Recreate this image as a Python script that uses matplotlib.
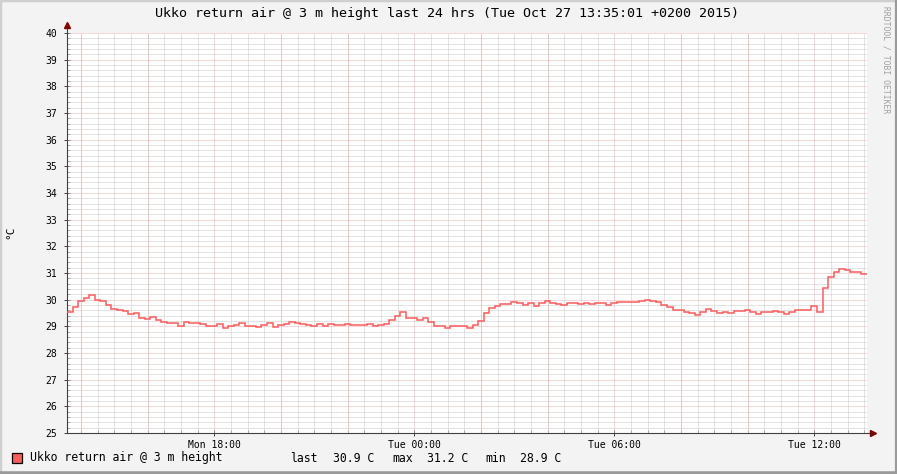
"""
RRDtool-style temperature graph: Ukko return air, last 24 h.
"""
import matplotlib
matplotlib.use("Agg")
import matplotlib.pyplot as plt
from matplotlib.lines import Line2D
from matplotlib.patches import Rectangle
from matplotlib.ticker import MultipleLocator, FixedLocator, FixedFormatter
import numpy as np

# --- data -----------------------------------------------------------------
start_hour = 13 + 35 / 60          # Mon 13:35, hours since Mon 00:00
step_hours = 10 / 60               # one sample every 10 min

temps = [
    29.55, 29.74, 29.95, 30.07, 30.16, 30.00, 29.95, 29.79, 29.66, 29.60,
    29.57, 29.45, 29.50, 29.32, 29.26, 29.36, 29.25, 29.16, 29.13, 29.13,
    29.00, 29.17, 29.12, 29.12, 29.10, 29.03, 29.03, 29.10, 28.95, 29.03,
    29.05, 29.12, 29.03, 29.03, 28.97, 29.05, 29.12, 28.98, 29.05, 29.10,
    29.15, 29.13, 29.09, 29.05, 29.02, 29.08, 29.00, 29.10, 29.05, 29.05,
    29.10, 29.05, 29.05, 29.05, 29.07, 29.03, 29.05, 29.08, 29.25, 29.40,
    29.55, 29.33, 29.30, 29.25, 29.30, 29.16, 29.00, 29.00, 28.95, 29.00,
    29.00, 29.00, 28.95, 29.05, 29.20, 29.50, 29.70, 29.78, 29.84, 29.82,
    29.92, 29.86, 29.80, 29.86, 29.78, 29.86, 29.94, 29.86, 29.84, 29.80,
    29.86, 29.86, 29.84, 29.86, 29.84, 29.86, 29.86, 29.80, 29.88, 29.93,
    29.93, 29.92, 29.90, 29.95, 30.00, 29.96, 29.90, 29.81, 29.72, 29.63,
    29.60, 29.55, 29.51, 29.43, 29.52, 29.65, 29.58, 29.50, 29.53, 29.50,
    29.59, 29.59, 29.60, 29.55, 29.45, 29.55, 29.53, 29.58, 29.52, 29.45,
    29.52, 29.60, 29.60, 29.62, 29.75, 29.55, 30.45, 30.85, 31.03, 31.15,
    31.12, 31.02, 31.03, 30.96,
]

title = "Ukko return air @ 3 m height last 24 hrs (Tue Oct 27 13:35:01 +0200 2015)"
series_name = "Ukko return air @ 3 m height"
unit_label = "°C"
stat_names = ["last", "max", "min"]
stat_values = [30.9, 31.2, 28.9]
x_tick_hours = [18, 24, 30, 36]
x_tick_labels = ["Mon 18:00", "Tue 00:00", "Tue 06:00", "Tue 12:00"]
watermark = "RRDTOOL / TOBI OETIKER"

# --- styling --------------------------------------------------------------
W, H = 897, 474
BG = "#f3f3f3"
LINE = "#ff5c5c"
MINOR_GRID = "#c8c8c8"
MAJOR_GRID = "#f0b0b0"
AXIS = "#404040"
ARROW = "#800000"
MONO = "DejaVu Sans Mono"

fig = plt.figure(figsize=(W / 100, H / 100), dpi=100)
fig.patch.set_facecolor(BG)

# plot area: x 67..867, y 33..433 px
ax = fig.add_axes([67 / W, (H - 433) / H, 800 / W, 400 / H])
ax.set_facecolor("white")

edges = start_hour + np.arange(len(temps) + 1) * step_hours
ax.stairs(temps, edges, baseline=None, color=LINE, linewidth=1.1, zorder=3)

ax.set_xlim(start_hour, start_hour + 24)
ax.set_ylim(25, 40)

# grids (1px dotted)
dot = (0, (1, 1))
grid_kw = dict(linestyle=dot, linewidth=0.72)
ax.xaxis.set_minor_locator(MultipleLocator(0.5))
ax.yaxis.set_minor_locator(MultipleLocator(0.2))
ax.grid(which="minor", color=MINOR_GRID, zorder=1, **grid_kw)
for h in np.arange(14, start_hour + 24, 2):
    ax.axvline(h, color=MAJOR_GRID, zorder=2, **grid_kw)
for v in range(26, 41):
    ax.axhline(v, color=MAJOR_GRID, zorder=2, **grid_kw)

ax.xaxis.set_major_locator(FixedLocator(x_tick_hours))
ax.xaxis.set_major_formatter(FixedFormatter(x_tick_labels))
ax.yaxis.set_major_locator(MultipleLocator(1))
ax.yaxis.set_major_formatter(lambda v, p: f"{v:.0f}")

ax.tick_params(axis="both", which="major", labelsize=7, colors=AXIS,
               direction="inout", length=4, width=0.7)
ax.tick_params(axis="both", which="minor", colors="#909090",
               direction="in", length=2, width=0.5)
ax.tick_params(axis="y", which="major", pad=5)
ax.tick_params(axis="x", which="major", pad=3)
for lbl in ax.get_xticklabels() + ax.get_yticklabels():
    lbl.set_fontfamily(MONO)
    lbl.set_color("black")

for s in ["top", "right"]:
    ax.spines[s].set_visible(False)
for s in ["left", "bottom"]:
    ax.spines[s].set_color(AXIS)
    ax.spines[s].set_linewidth(0.8)

# axis extensions with arrows
ax.plot([0, 0], [1, 1 + 6 / 400], color=AXIS, lw=0.8, transform=ax.transAxes, clip_on=False)
ax.plot([1, 1 + 5 / 800], [0, 0], color=AXIS, lw=0.8, transform=ax.transAxes, clip_on=False)
ax.plot([0], [1 + 8 / 400], marker="^", ms=4, color=ARROW, transform=ax.transAxes, clip_on=False)
ax.plot([1 + 6 / 800], [0], marker=">", ms=4, color=ARROW, transform=ax.transAxes, clip_on=False)

# texts
fig.text(447 / W, 1 - 14 / H, title, ha="center", va="center",
         fontsize=9.6, family=MONO)
fig.text(10 / W, 1 - 232 / H, unit_label, rotation=90, ha="center", va="center",
         fontsize=8, family=MONO)
fig.text(886 / W, 1 - 6 / H, watermark, rotation=270, ha="center", va="top",
         fontsize=5.8, family=MONO, color="#a0a0a0")

# legend
fig.add_artist(Rectangle((12 / W, 1 - 463 / H), 10 / W, 10 / H, transform=fig.transFigure,
                         facecolor=LINE, edgecolor="black", linewidth=0.9))
fig.text(30 / W, 1 - 458 / H, series_name, ha="left", va="center", fontsize=8.3, family=MONO)
name_x = [290, 392, 485]
value_x = [333, 427, 520]
for name, val, xn, xv in zip(stat_names, stat_values, name_x, value_x):
    fig.text(xn / W, 1 - 458 / H, name, ha="left", va="center", fontsize=8.3, family=MONO)
    fig.text(xv / W, 1 - 458 / H, f"{val:.1f} C", ha="left", va="center",
             fontsize=8.3, family=MONO)

# 3D-ish frame
fig.add_artist(Line2D([0, 1], [1, 1], transform=fig.transFigure, color="#cfcfcf", lw=2.5))
fig.add_artist(Line2D([0, 0], [0, 1], transform=fig.transFigure, color="#cfcfcf", lw=2.5))
fig.add_artist(Line2D([0, 1], [0, 0], transform=fig.transFigure, color="#9a9a9a", lw=4))
fig.add_artist(Line2D([1, 1], [0, 1], transform=fig.transFigure, color="#9a9a9a", lw=3))

fig.savefig("out.png", dpi=100, facecolor=BG)
